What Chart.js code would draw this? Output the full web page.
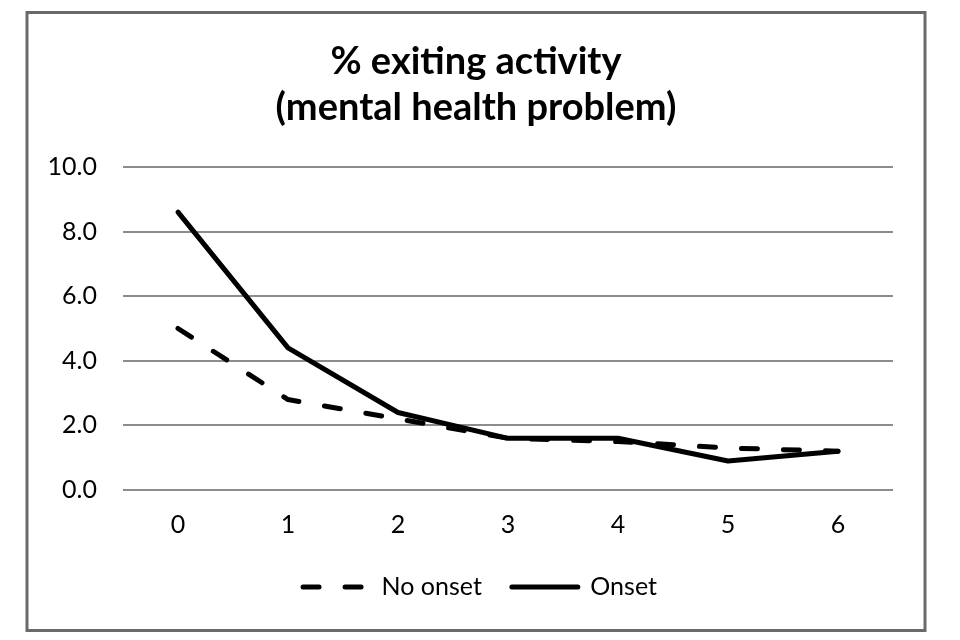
<!DOCTYPE html>
<html>
<head>
<meta charset="utf-8">
<script src="https://cdn.jsdelivr.net/npm/chart.js@4.4.1/dist/chart.umd.min.js"></script>
<style>
  html, body { margin: 0; padding: 0; background: #fff; }
  #wrap { width: 960px; height: 640px; position: relative; }
</style>
</head>
<body>
<div id="wrap"><canvas id="exitChart"></canvas></div>
<script>
// --- datos ---
const categories = ['0', '1', '2', '3', '4', '5', '6'];
const noOnset = [5.0, 2.8, 2.2, 1.6, 1.5, 1.3, 1.2];
const onset = [8.6, 4.4, 2.4, 1.6, 1.6, 0.9, 1.2];
const titleLines = ['% exiting activity', '(mental health problem)'];
const seriesNames = ['No onset', 'Onset'];

const FONT = 'Lato, "Open Sans", sans-serif';

// marco gris alrededor de todo el grafico + centrado de titulo y leyenda dentro del marco
const framePlugin = {
    id: 'frame',
    afterLayout(chart) {
        if (chart.titleBlock) { chart.titleBlock.left = 27; chart.titleBlock.right = 925; }
        if (chart.legend) { chart.legend.left = 35; chart.legend.right = 925; }
    },
    beforeDraw(chart) {
        const ctx = chart.ctx;
        ctx.save();
        ctx.fillStyle = '#fff';
        ctx.fillRect(0, 0, chart.width, chart.height);
        ctx.strokeStyle = '#6a6a6a';
        ctx.lineWidth = 3;
        ctx.strokeRect(27, 12.5, 898, 618);
        ctx.restore();
    }
};

const ctx = document.getElementById('exitChart').getContext('2d');
new Chart(ctx, {
    type: 'line',
    data: {
        labels: categories,
        datasets: [
            {
                label: seriesNames[0], data: noOnset,
                borderColor: '#000', backgroundColor: '#000', borderWidth: 5,
                borderDash: [16, 26], borderCapStyle: 'round', borderJoinStyle: 'round',
                pointRadius: 0, tension: 0, fill: false
            },
            {
                label: seriesNames[1], data: onset,
                borderColor: '#000', backgroundColor: '#000', borderWidth: 5,
                borderCapStyle: 'round', borderJoinStyle: 'round',
                pointRadius: 0, tension: 0, fill: false
            }
        ]
    },
    options: {
        responsive: true, maintainAspectRatio: false, animation: false,
        layout: { padding: { left: 20, right: 67, top: 0, bottom: 30.5 } },
        plugins: {
            tooltip: { enabled: false },
            title: {
                display: true, text: titleLines, color: '#000',
                font: { family: FONT, size: 38, weight: 'bold', lineHeight: 1.21 },
                padding: { top: 39, bottom: 36 }
            },
            legend: {
                position: 'bottom',
                labels: {
                    usePointStyle: true, pointStyle: 'line', pointStyleWidth: 66,
                    color: '#000', padding: 30,
                    font: { family: FONT, size: 25 },
                    generateLabels(chart) {
                        const items = Chart.defaults.plugins.legend.labels.generateLabels(chart);
                        items.forEach((it, i) => {
                            const ds = chart.data.datasets[i];
                            it.lineDash = ds.borderDash || [];
                            it.lineCap = 'round';
                            it.lineWidth = 5;
                            it.strokeStyle = '#000';
                        });
                        return items;
                    }
                }
            }
        },
        scales: {
            x: {
                offset: true,
                afterFit(scale) { scale.height = 54.5; },
                grid: { display: false, drawTicks: false },
                border: { display: false },
                ticks: { color: '#000', padding: 20, font: { family: FONT, size: 25 } }
            },
            y: {
                min: 0, max: 10,
                afterFit(scale) { scale.width = 103; },
                grid: { color: '#8c8c8c', lineWidth: 2, drawTicks: false },
                border: { display: false },
                ticks: {
                    stepSize: 2, color: '#000', padding: 26,
                    font: { family: FONT, size: 25 },
                    callback: v => v.toFixed(1)
                }
            }
        }
    },
    plugins: [framePlugin]
});
</script>
</body>
</html>
